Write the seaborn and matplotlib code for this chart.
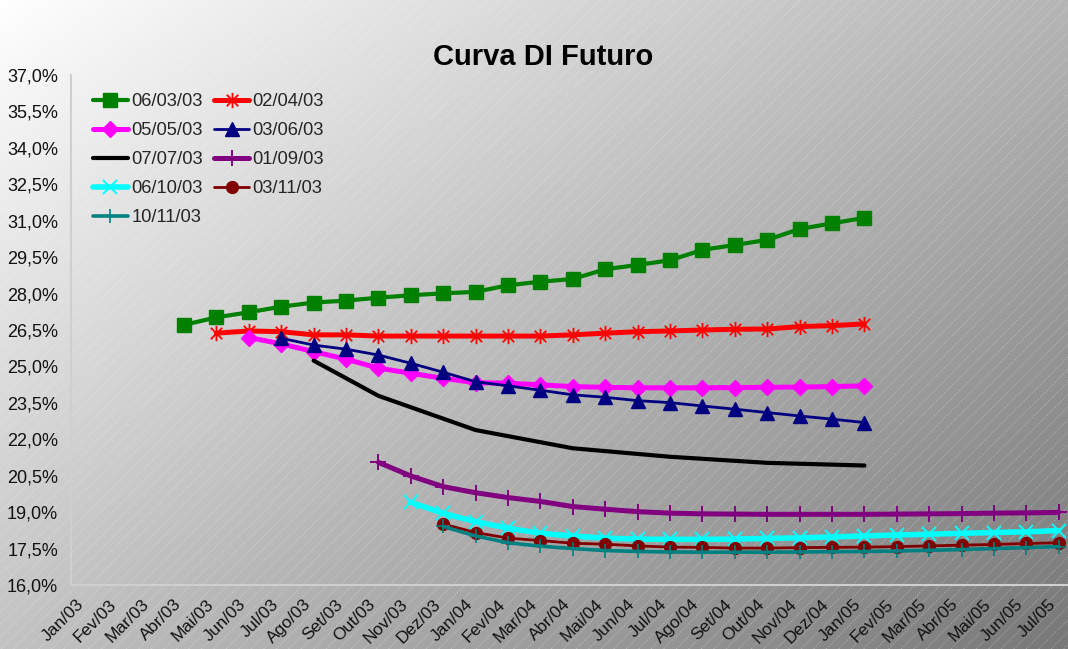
import numpy as np
import pandas as pd
import matplotlib
matplotlib.use("Agg")
import matplotlib.pyplot as plt
import seaborn as sns
from matplotlib.path import Path
from matplotlib.collections import LineCollection
from matplotlib.ticker import FixedLocator, FuncFormatter

# Maturity months on the category axis
months = ["Jan/03", "Fev/03", "Mar/03", "Abr/03", "Mai/03", "Jun/03", "Jul/03",
          "Ago/03", "Set/03", "Out/03", "Nov/03", "Dez/03",
          "Jan/04", "Fev/04", "Mar/04", "Abr/04", "Mai/04", "Jun/04", "Jul/04",
          "Ago/04", "Set/04", "Out/04", "Nov/04", "Dez/04",
          "Jan/05", "Fev/05", "Mar/05", "Abr/05", "Mai/05", "Jun/05", "Jul/05"]

# DI futures curves (% a.a.), each listed from its first maturity month onward
curva_060303 = [26.71, 27.02, 27.23, 27.46, 27.63, 27.71, 27.83, 27.93, 28.01, 28.07, 28.34,
                28.49, 28.60, 29.00, 29.18, 29.37, 29.80, 30.00, 30.21, 30.66, 30.89, 31.12]
curva_020403 = [26.37, 26.46, 26.43, 26.30, 26.30, 26.25, 26.25, 26.25, 26.25, 26.25, 26.25,
                26.30, 26.37, 26.43, 26.46, 26.50, 26.53, 26.54, 26.64, 26.68, 26.75]
curva_050503 = [26.19, 25.93, 25.61, 25.30, 24.93, 24.72, 24.51, 24.33, 24.31, 24.24,
                24.17, 24.14, 24.12, 24.12, 24.12, 24.13, 24.14, 24.15, 24.17, 24.20]
curva_030603 = [26.16, 25.88, 25.71, 25.47, 25.13, 24.76, 24.37, 24.20, 24.02, 23.83,
                23.73, 23.59, 23.51, 23.37, 23.24, 23.10, 22.96, 22.83, 22.69]
curva_070703_meses = ["Ago/03", "Out/03", "Jan/04", "Abr/04", "Jul/04", "Out/04", "Jan/05"]
curva_070703 = [25.24, 23.79, 22.38, 21.63, 21.28, 21.03, 20.92]
curva_010903 = [21.05, 20.49, 20.05, 19.80, 19.60, 19.44, 19.23, 19.12, 19.02, 18.96, 18.93,
                18.92, 18.91, 18.91, 18.91, 18.91, 18.92, 18.93, 18.94, 18.96, 18.97, 18.99]
curva_061003 = [19.41, 18.95, 18.61, 18.34, 18.13, 18.02, 17.93, 17.89, 17.88, 17.88, 17.89,
                17.92, 17.94, 17.98, 18.02, 18.06, 18.09, 18.13, 18.16, 18.19, 18.24]
curva_031103 = [18.51, 18.16, 17.93, 17.83, 17.72, 17.68, 17.61, 17.56, 17.55, 17.52,
                17.52, 17.54, 17.55, 17.56, 17.58, 17.61, 17.64, 17.67, 17.71, 17.74]
curva_101103 = [18.41, 18.02, 17.74, 17.60, 17.50, 17.42, 17.38, 17.36, 17.35, 17.35,
                17.35, 17.36, 17.37, 17.38, 17.40, 17.43, 17.46, 17.50, 17.54, 17.58]

yticks = [16.0, 17.5, 19.0, 20.5, 22.0, 23.5, 25.0, 26.5, 28.0, 29.5, 31.0, 32.5, 34.0, 35.5, 37.0]


def from_month(start, values):
    i0 = months.index(start)
    return [months[i0 + k] for k in range(len(values))], values


# Excel-style star: vertical bar plus an X
star = Path([(0, -1), (0, 1), (-0.75, -0.75), (0.75, 0.75), (-0.75, 0.75), (0.75, -0.75)],
            [Path.MOVETO, Path.LINETO, Path.MOVETO, Path.LINETO, Path.MOVETO, Path.LINETO])

series = [
    ("06/03/03", *from_month("Abr/03", curva_060303), "#008000", 3.0, "s", 10, 1.0),
    ("02/04/03", *from_month("Mai/03", curva_020403), "#ff0000", 3.6, star, 11, 1.3),
    ("05/05/03", *from_month("Jun/03", curva_050503), "#ff00ff", 3.6, "D", 8.5, 1.0),
    ("03/06/03", *from_month("Jul/03", curva_030603), "#000080", 2.0, "^", 9.5, 1.0),
    ("07/07/03", curva_070703_meses, curva_070703, "#000000", 3.0, None, 0, 0),
    ("01/09/03", *from_month("Out/03", curva_010903), "#800080", 3.6, "+", 11, 1.4),
    ("06/10/03", *from_month("Nov/03", curva_061003), "#00ffff", 4.0, "x", 9.5, 1.4),
    ("03/11/03", *from_month("Dez/03", curva_031103), "#800000", 2.0, "o", 8.5, 1.0),
    ("10/11/03", *from_month("Dez/03", curva_101103), "#008080", 2.6, "+", 9.5, 1.2),
]

W, H = 1068, 649
fig = plt.figure(figsize=(W / 100, H / 100), dpi=100)
sns.set_style("white")
plt.rcParams["font.family"] = ["Liberation Sans", "DejaVu Sans"]

# Diagonal grey gradient with faint dashed stripes behind the whole chart
bg = fig.add_axes([0, 0, 1, 1], zorder=-10)
bg.set_xlim(0, W)
bg.set_ylim(H, 0)
bg.axis("off")
xx, yy = np.meshgrid(np.linspace(0, 1, 400), np.linspace(0, 1, 250))
t = np.clip((xx * 0.55 + yy * 0.45), 0, 1)
c0, c1 = np.array([1.0, 1.0, 1.0]), np.array([0.47, 0.47, 0.47])
img = c0[None, None, :] * (1 - t[..., None]) + c1[None, None, :] * t[..., None]
bg.imshow(img, extent=(0, W, H, 0), aspect="auto", interpolation="bilinear")
slope = 1.0
segs = []
for c in np.arange(-H, W + H, 12.5):
    segs.append([(c, H), (c + H / slope, 0)])
bg.add_collection(LineCollection(segs, colors=[(1, 1, 1, 0.3)], linewidths=0.6,
                                 linestyles=(0, (2.0, 1.5))))

ax = fig.add_axes([70.6 / W, 1 - 585 / H, (31 * 32.4) / W, (585 - 75) / H])
ax.set_facecolor("none")

for label, mx, vals, color, lw, marker, ms, mew in series:
    df = pd.DataFrame({"x": [months.index(m) for m in mx], "y": vals})
    kw = dict(marker=marker, markersize=ms, markeredgewidth=mew,
              markerfacecolor=color, markeredgecolor=color) if marker is not None else {}
    sns.lineplot(data=df, x="x", y="y", ax=ax, color=color, linewidth=lw,
                 label=label, sort=False, **kw)

ax.set_xlim(-0.5, len(months) - 0.5)
ax.set_ylim(16.0, 37.0)
ax.set_xlabel("")
ax.set_ylabel("")
ax.yaxis.set_major_locator(FixedLocator(yticks))
ax.yaxis.set_major_formatter(FuncFormatter(lambda v, p: f"{v:.1f}%".replace(".", ",")))
ax.set_xticks(range(len(months)))
ax.set_xticklabels(months, rotation=45, ha="right", va="bottom", rotation_mode="anchor")
ax.set_xticks(np.arange(-0.5, len(months) + 0.5, 1), minor=True)
ax.tick_params(axis="x", which="major", length=0, pad=16, labelsize=12.5, labelcolor="#111111")
ax.tick_params(axis="x", which="minor", length=5, width=1.2, color="#cfcfcf", direction="out")
ax.tick_params(axis="y", which="major", length=5, width=1.2, color="#cfcfcf", direction="out",
               pad=4, labelsize=13, labelcolor="#111111")
for side in ("top", "right"):
    ax.spines[side].set_visible(False)
for side in ("left", "bottom"):
    ax.spines[side].set_color("#cfcfcf")
    ax.spines[side].set_linewidth(1.5)
ax.grid(False)

handles, labels = ax.get_legend_handles_labels()
order = [0, 2, 4, 6, 8, 1, 3, 5, 7]
ax.legend([handles[i] for i in order], [labels[i] for i in order],
          loc="upper left", bbox_to_anchor=(93 / W, 1 - 93 / H), bbox_transform=fig.transFigure,
          ncol=2, frameon=False, fontsize=13.2, handlelength=1.9, handletextpad=0.2,
          columnspacing=0.6, labelspacing=0.66, borderpad=0, borderaxespad=0)

fig.text(543 / W, 1 - 57 / H, "Curva DI Futuro", ha="center", va="center",
         fontsize=21, fontweight="bold", color="#000000")

fig.savefig("out.png", dpi=100)
